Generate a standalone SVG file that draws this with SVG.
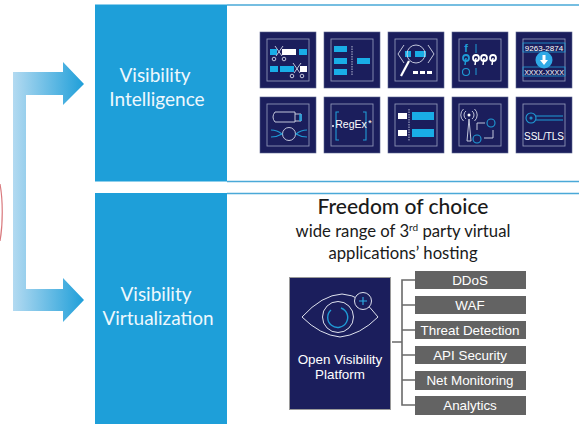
<svg xmlns="http://www.w3.org/2000/svg" width="579" height="424" viewBox="0 0 579 424">
<style>
.ttl{font-family:"Lato","Open Sans",sans-serif;fill:#eef8fd;font-size:19px;text-anchor:middle}
.hd{font-family:"Lato","Noto Sans",sans-serif;fill:#1a1a1a;text-anchor:middle}
.bar{fill:#636363}
.bt{font-family:"Liberation Sans",Arial,sans-serif;font-size:13.4px;fill:#fff;text-anchor:middle}
.ln{fill:none;stroke:#6a6a6a;stroke-width:1.6}
.tile{fill:#1b1e5c;stroke:#5c6590;stroke-width:.6}
.frm{fill:none;stroke:#8d93b5;stroke-width:.9}
.c{fill:#19ade6}
.w{fill:#fff}
.s{fill:none;stroke:#d5d8e8;stroke-width:.9}
.sb{fill:none;stroke:#1f9bd6;stroke-width:1.1}
.tt{font-family:"Liberation Sans",Arial,sans-serif;fill:#fff;text-anchor:middle}
</style>
<defs>
<linearGradient id="g1" gradientUnits="userSpaceOnUse" x1="13" y1="0" x2="84" y2="0"><stop offset="0" stop-color="#b3daf1"/><stop offset="1" stop-color="#1f9fd9"/></linearGradient>
<g id="tb"><rect class="tile" x="0" y="0" width="56" height="56"/><rect class="frm" x="7" y="7" width="42" height="42"/></g>
</defs>
<rect width="579" height="424" fill="#fff"/>
<path d="M0 184C3 200 3 224 0 241" fill="none" stroke="#d9797d" stroke-width="1.2"/>
<g id="connectors">
<path d="M13 72H63V62L84 84L63 105V95H26V289H63V278L84 300L63 322V311H13Z" fill="url(#g1)"/>
<path class="ln" d="M415 280H402V405H415M402 305H415M402 330H415M402 355H415M402 380H415M392 342H402"/>
</g>
<g id="visibility-intelligence">
<rect x="95" y="4.5" width="132" height="177" fill="#1e9fd9"/>
<path d="M227 5H579M227 181.500H579" stroke="#4aa9d8" stroke-width="1.4" fill="none"/>
<text class="ttl" x="155" y="82">Visibility</text>
<text class="ttl" x="157" y="106">Intelligence</text>
</g>
<g id="visibility-virtualization">
<rect x="95" y="193" width="132" height="231" fill="#1e9fd9"/>
<path d="M227 193.500H579" stroke="#4aa9d8" stroke-width="1.4" fill="none"/>
<text class="ttl" x="156" y="301">Visibility</text>
<text class="ttl" x="158" y="325">Virtualization</text>
</g>
<g id="tile-1" transform="translate(260 32)"><use href="#tb"/>
<rect class="c" x="10" y="17" width="7" height="6"/><rect class="w" x="22" y="17" width="14" height="6"/><rect class="c" x="39" y="17" width="8" height="6"/>
<rect class="c" x="10" y="34" width="8" height="6"/><rect class="c" x="20" y="34" width="14" height="6"/><rect class="w" x="40" y="34" width="7" height="6"/>
<path class="s" d="M15 14L22 24M23 14L16 24"/><circle class="s" cx="14" cy="27" r="1.800"/><circle class="s" cx="24" cy="27" r="1.800"/>
<path class="s" d="M33 31L40 41M41 31L34 41"/><circle class="s" cx="32" cy="44" r="1.800"/><circle class="s" cx="42" cy="44" r="1.800"/></g>
<g id="tile-2" transform="translate(324 32)"><use href="#tb"/>
<rect class="c" x="10" y="14" width="13" height="6"/><rect class="c" x="10" y="26" width="13" height="6"/><rect class="c" x="10" y="37" width="13" height="6"/><rect class="c" x="33" y="26" width="13" height="6"/>
<path d="M28 14V44" stroke="#c8cce0" stroke-width=".9" stroke-dasharray="1.500 1" fill="none"/></g>
<g id="tile-3" transform="translate(388 32)"><use href="#tb"/>
<rect class="c" x="17" y="19" width="6" height="6"/><rect class="c" x="27" y="19" width="11" height="6"/>
<circle class="s" cx="28" cy="22" r="9"/><path d="M21 29L13 44" stroke="#fff" stroke-width="2.200"/>
<path class="s" d="M16 13L10 22L16 31M40 13L46 22L40 31"/>
<rect class="w" x="25" y="39" width="5" height="3"/><rect class="w" x="32" y="39" width="5" height="3"/><rect class="w" x="39" y="39" width="5" height="3"/></g>
<g id="tile-4" transform="translate(452 32)"><use href="#tb"/>
<text x="14" y="20" font-family="Liberation Sans,sans-serif" font-size="11" font-weight="bold" fill="#1f9bd6" text-anchor="middle">f</text>
<circle cx="14" cy="26" r="3" fill="none" stroke="#1f9bd6" stroke-width="1.800"/><circle cx="24" cy="26" r="3" fill="none" stroke="#fff" stroke-width="1.800"/><circle cx="32" cy="26" r="3" fill="none" stroke="#fff" stroke-width="1.800"/><circle cx="41" cy="26" r="3" fill="none" stroke="#fff" stroke-width="1.800"/>
<path d="M24 26L23 33M32 26L31 33M41 26L40 33" stroke="#fff" stroke-width="1.500" fill="none"/><path d="M14 26L13 33" stroke="#1f9bd6" stroke-width="1.500" fill="none"/>
<circle class="sb" cx="14" cy="40" r="3.500"/><path d="M24 12V21M24 36V43" stroke="#1f9bd6" fill="none"/></g>
<g id="tile-5" transform="translate(516 32)"><use href="#tb"/>
<rect x="7" y="11" width="42" height="9" fill="none" stroke="#1f9bd6" stroke-width=".8"/><rect x="7" y="35" width="42" height="9" fill="none" stroke="#1f9bd6" stroke-width=".8"/>
<text class="tt" x="28" y="18.500" font-size="8">9263-2874</text><text class="tt" x="28" y="42.500" font-size="7">XXXX-XXXX</text>
<circle cx="28" cy="28" r="8.500" fill="#2fa9e6"/><path d="M26.500 23H29.500V28H32L28 33L24 28H26.500Z" fill="#fff"/></g>
<g id="tile-6" transform="translate(260 97)"><use href="#tb"/>
<path class="s" d="M15 15H35V25H15Q11 20 15 15ZM35 17H41V24H35"/><rect class="c" x="39" y="17" width="3" height="7" opacity=".7"/>
<circle class="s" cx="29" cy="37" r="6.500"/><path class="sb" d="M11 33Q17 33 22 37Q17 40 11 40M47 33Q41 33 36 37Q41 40 47 40"/></g>
<g id="tile-7" transform="translate(324 97)"><use href="#tb"/>
<path class="sb" d="M15 15H12V43H15M39 15H42V43H39"/>
<text class="tt" x="27" y="31" font-size="10.500">RegEx</text><circle class="w" cx="9" cy="29" r="1"/><text class="tt" x="46" y="29" font-size="9">*</text></g>
<g id="tile-8" transform="translate(388 97)"><use href="#tb"/>
<rect class="w" x="10" y="16" width="9" height="6"/><rect class="w" x="10" y="33" width="9" height="6"/><rect class="c" x="24" y="15" width="22" height="8"/><rect class="c" x="24" y="32" width="22" height="8"/>
<path d="M21 12V44" stroke="#c8cce0" stroke-width=".9" stroke-dasharray="1.500 1" fill="none"/></g>
<g id="tile-9" transform="translate(452 97)"><use href="#tb"/>
<path class="s" d="M14 14A5 5 0 0 0 14 22M11.500 12A8 8 0 0 0 11.500 24M20 14A5 5 0 0 1 20 22M22.500 12A8 8 0 0 1 22.500 24M15 44L17 22L19 44Z"/><circle class="w" cx="17" cy="18" r="1.500"/>
<circle class="sb" cx="39" cy="26" r="4"/><circle class="sb" cx="25" cy="42" r="4"/>
<path class="s" d="M25 33V26H33M41 33V41H32"/></g>
<g id="tile-10" transform="translate(516 97)"><use href="#tb"/>
<circle class="sb" cx="15" cy="21" r="5"/><circle class="sb" cx="15" cy="21" r="1"/><path class="sb" d="M20 19H47M20 23H47"/>
<text class="tt" x="28" y="43" font-size="10">SSL/TLS</text></g>
<g id="heading">
<text class="hd" x="403" y="214" font-size="21" font-weight="500">Freedom of choice</text>
<text class="hd" x="403" y="237" font-size="16.700">wide range of 3<tspan font-size="10" dy="-6">rd</tspan><tspan dy="6"> party virtual</tspan></text>
<text class="hd" x="403" y="258.500" font-size="16.700">applications’ hosting</text>
</g>
<g id="open-visibility-platform">
<rect x="289.500" y="277.500" width="101" height="132" fill="#1b1e5c" stroke="#9a9a9a" stroke-width="1"/>
<path d="M302 317Q322 295 342 294Q362 295 378 317Q360 335 340 337Q320 335 302 317Z" fill="none" stroke="#dfe2ee" stroke-width="1"/>
<circle cx="338" cy="317" r="15.500" fill="#1b1e5c" stroke="#dfe2ee" stroke-width="1"/>
<path d="M341 308A10 10 0 1 1 331 310" fill="none" stroke="#1f9bd6" stroke-width="1.400"/>
<circle cx="363" cy="301" r="8.500" fill="#1b1e5c" stroke="#dfe2ee" stroke-width="1"/>
<path d="M363 297V305M359 301H367" stroke="#2db0e8" stroke-width="1.100"/>
<text class="tt" x="340" y="364" font-size="13.400">Open Visibility</text>
<text class="tt" x="340" y="379" font-size="13.400">Platform</text>
</g>
<g id="ddos"><rect class="bar" x="415" y="271" width="111" height="18"/><text class="bt" x="470" y="285">DDoS</text></g>
<g id="waf"><rect class="bar" x="415" y="296" width="111" height="18"/><text class="bt" x="470" y="310">WAF</text></g>
<g id="threat-detection"><rect class="bar" x="415" y="321" width="111" height="18"/><text class="bt" x="470" y="335">Threat Detection</text></g>
<g id="api-security"><rect class="bar" x="415" y="346" width="111" height="18"/><text class="bt" x="470" y="360">API Security</text></g>
<g id="net-monitoring"><rect class="bar" x="415" y="371" width="111" height="19"/><text class="bt" x="470" y="385">Net Monitoring</text></g>
<g id="analytics"><rect class="bar" x="415" y="396" width="111" height="19"/><text class="bt" x="470" y="410">Analytics</text></g>
</svg>
